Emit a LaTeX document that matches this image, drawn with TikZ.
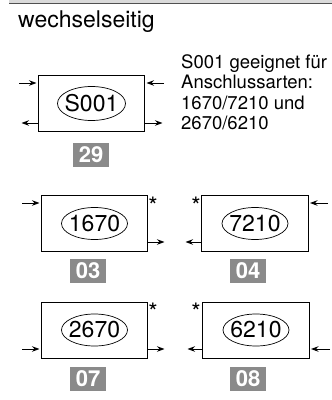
\documentclass[tikz,border=0pt]{standalone}
\usepackage{fontspec}
\setmainfont{TeX Gyre Heros}
\usetikzlibrary{shapes.geometric,arrows.meta}
\definecolor{labelgrau}{HTML}{8A8A8A}
\definecolor{balkenhell}{HTML}{DADADA}
\definecolor{balkendunkel}{HTML}{505050}

\begin{document}
\begin{tikzpicture}[x=1bp,y=-1bp,
  every node/.style={inner sep=0pt},
  anschluss/.style={draw,line width=1bp,minimum width=106bp,minimum height=56bp},
  kennung/.style={draw,ellipse,line width=0.7bp,inner xsep=-8bp,inner ysep=-5bp,
    minimum width=66bp,minimum height=32bp,font=\fontsize{23bp}{27bp}\selectfont},
  nummer/.style={fill=labelgrau,text=white,minimum width=36bp,minimum height=24bp,font=\fontsize{22bp}{26bp}\selectfont\bfseries},
  stern/.style={font=\fontsize{24bp}{28bp}\selectfont},
  sig/.style={-{Stealth[length=7.5bp,width=5.5bp]},line width=0.9bp,shorten >=1.5bp}]
\useasboundingbox (0,0) rectangle (332,400);
\fill[balkenhell] (9,0) rectangle (332,3);
\draw[balkendunkel,line width=1.2bp] (9,3.6) -- (332,3.6);
\node[anchor=base west,font=\fontsize{23bp}{27bp}\selectfont] (titel) at (18,27) {wechselseitig};
\node[anchor=north west,align=left,font=\fontsize{18.5bp}{20.5bp}\selectfont] (hinweis) at (181,54)
  {S001 geeignet für\\Anschlussarten:\\1670/7210 und\\2670/6210};

\node[anschluss] (B29) at (91.5,103.5) {};
\node[kennung,minimum width=68bp,minimum height=34bp] (K29) at (B29) {S001};
\node[nummer] (N29) at (91,155) {29};

\node[anschluss] (B03) at (94.5,223.5) {};
\node[kennung] (K03) at (B03) {1670};
\node[nummer] (N03) at (88,271) {03};
\node[stern] (S03) at (153,206) {*};

\node[anschluss] (B04) at (255,223.5) {};
\node[kennung] (K04) at (B04) {7210};
\node[nummer] (N04) at (248,271) {04};
\node[stern] (S04) at (196,206) {*};

\node[anschluss] (B07) at (94.5,330) {};
\node[kennung] (K07) at (B07) {2670};
\node[nummer] (N07) at (88,379) {07};
\node[stern] (S07) at (153,312) {*};

\node[anschluss] (B08) at (256,330) {};
\node[kennung] (K08) at (B08) {6210};
\node[nummer] (N08) at (248,379) {08};
\node[stern] (S08) at (196,312) {*};

\coordinate (e29a) at (19,83);  \coordinate (e29b) at (164,83);
\coordinate (a29a) at (20,123); \coordinate (a29b) at (164,123);
\coordinate (e03) at (22,203);  \coordinate (a03) at (166,242);
\coordinate (e04) at (328,203); \coordinate (a04) at (184,242);
\coordinate (e07) at (22,349);  \coordinate (a07) at (166,349);
\coordinate (e08) at (330,349); \coordinate (a08) at (186,349);

\draw[sig] (e29a) -- (e29a -| B29.west);
\draw[sig] (e29b) -- (e29b -| B29.east);
\draw[sig] (a29a -| B29.west) -- (a29a);
\draw[sig] (a29b -| B29.east) -- (a29b);
\draw[sig] (e03) -- (e03 -| B03.west);
\draw[sig] (a03 -| B03.east) -- (a03);
\draw[sig] (e04) -- (e04 -| B04.east);
\draw[sig] (a04 -| B04.west) -- (a04);
\draw[sig] (e07) -- (e07 -| B07.west);
\draw[sig] (a07 -| B07.east) -- (a07);
\draw[sig] (e08) -- (e08 -| B08.east);
\draw[sig] (a08 -| B08.west) -- (a08);
\end{tikzpicture}
\end{document}
